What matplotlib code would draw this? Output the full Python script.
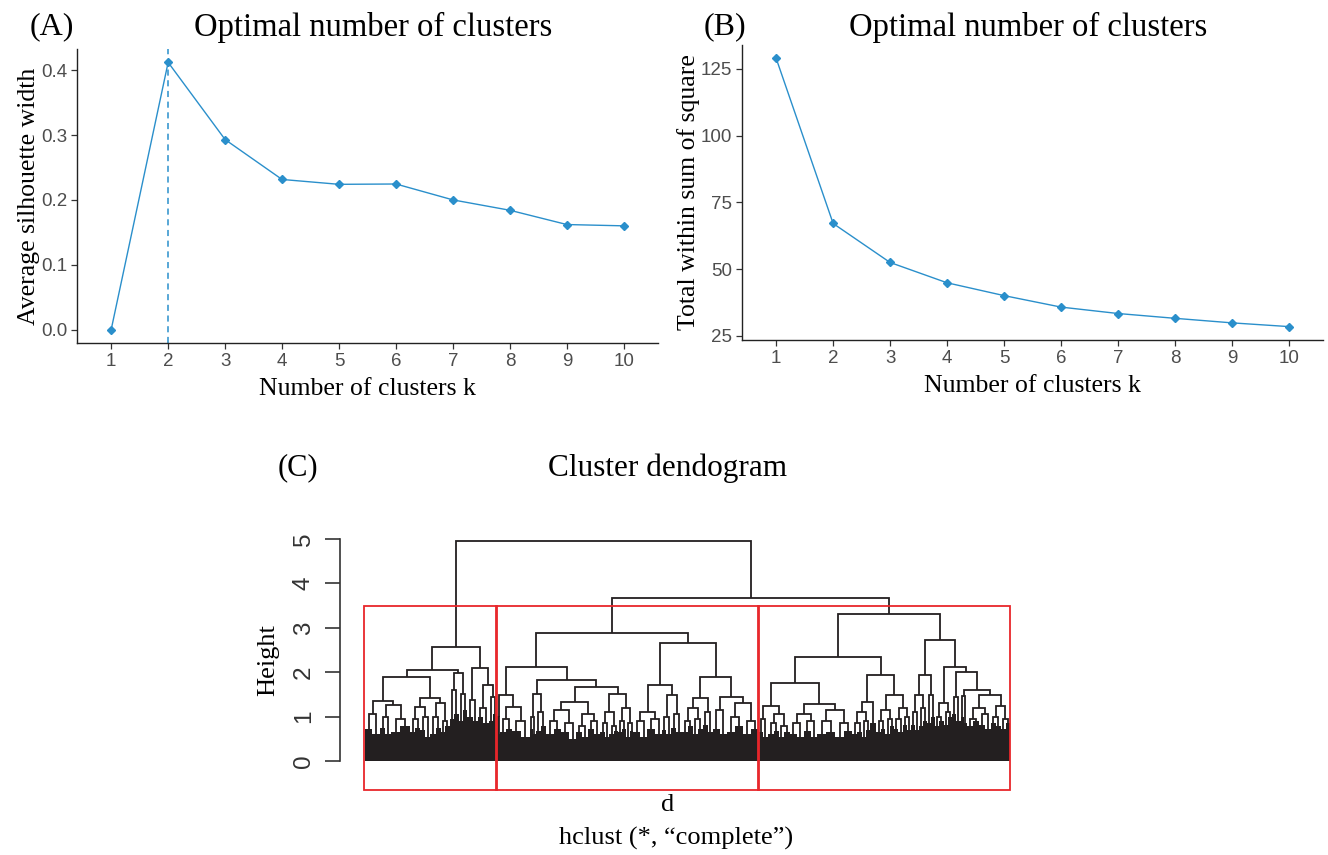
import matplotlib
matplotlib.use("Agg")
import matplotlib.pyplot as plt
from matplotlib.patches import Rectangle

# ---------------- data ----------------
k_values = [1, 2, 3, 4, 5, 6, 7, 8, 9, 10]
silhouette = [0.0, 0.412, 0.293, 0.2315, 0.224, 0.2245, 0.200, 0.184, 0.162, 0.160]
optimal_k = 2
wss = [128.9, 67.1, 52.5, 44.9, 40.1, 35.8, 33.4, 31.6, 29.9, 28.5]

# dendrogram: internal node = [height, left, right]; leaf bundle = (n_leaves, height)
cl1 = [2.57,
       [2.05,
        [1.9,
         [1.35, [1.05, (7, 0.72), (8, 0.6)],
                [1.26, [1.0, (5, 0.75), (6, 0.6)], [0.95, (9, 0.65), (10, 0.78)]]],
         [1.43, [1.22, [0.95, (5, 0.65), (5, 0.75)], [1.0, (5, 0.7), (5, 0.55)]],
                [1.3, [1.0, (5, 0.6), (5, 0.75)], [0.9, (4, 0.65), (5, 0.8)]]]],
        [1.98, [1.6, (4, 0.95), (5, 1.05)], [1.5, (4, 0.9), (4, 1.15)]]],
       [2.09,
        [1.37, (6, 1.0), (5, 0.9)],
        [1.71, [1.2, (5, 1.0), (6, 0.85)], [1.45, (4, 0.9), (4, 1.05)]]]]

cl2 = [2.89,
       [2.11,
        [1.49, [1.0, (2, 0.75), (1, 0.6)],
               [1.21, [0.95, (6, 0.65), (6, 0.72)], [0.9, (9, 0.68), (9, 0.55)]]],
        [1.82,
         [1.52, [1.0, (3, 0.72), (3, 0.6)], [1.1, (5, 0.68), (5, 0.78)]],
         [1.67,
          [1.34, [1.15, [0.9, (8, 0.6), (7, 0.72)], [0.85, (8, 0.65), (7, 0.5)]],
                 [1.05, [0.8, (6, 0.65), (6, 0.55)], [0.9, (6, 0.72), (6, 0.6)]]],
          [1.52, [1.1, [0.85, (5, 0.65), (4, 0.55)], [0.8, (5, 0.6), (4, 0.68)]],
                 [1.2, [0.9, (4, 0.65), (4, 0.72)], [0.85, (4, 0.55), (3, 0.68)]]]]]],
       [2.65,
        [1.71,
         [1.11, [0.9, (7, 0.65), (7, 0.55)], [0.95, (8, 0.72), (7, 0.6)]],
         [1.49, [1.0, (4, 0.7), (5, 0.6)], [1.05, (5, 0.75), (6, 0.65)]]],
        [1.9,
         [1.41, [1.2, [0.9, (5, 0.65), (5, 0.78)], [0.95, (5, 0.6), (5, 0.72)]],
                [1.1, (5, 0.82), (5, 0.65)]],
         [1.45, [1.15, (7, 0.72), (7, 0.6)],
                [1.3, [1.0, (8, 0.65), (8, 0.78)], [0.9, (8, 0.6), (8, 0.72)]]]]]]

cl3 = [3.31,
       [2.35,
        [1.75,
         [1.24, [0.95, (4, 0.65), (5, 0.55)],
                [1.05, [0.85, (6, 0.6), (5, 0.68)], [0.8, (5, 0.55), (6, 0.65)]]],
         [1.28, [1.05, [0.85, (7, 0.6), (7, 0.55)], [0.9, (7, 0.68), (6, 0.55)]],
                [1.15, [0.9, (9, 0.6), (9, 0.65)], [0.85, (9, 0.55), (8, 0.68)]]]],
        [1.94,
         [1.34, [1.1, [0.85, (5, 0.6), (5, 0.65)], [0.9, (4, 0.55), (4, 0.7)]], (6, 0.85)],
         [1.49, [1.15, [0.9, (5, 0.65), (4, 0.72)], [0.95, (5, 0.6), (4, 0.78)]],
                [1.2, [0.95, (4, 0.72), (5, 0.65)], [1.0, (4, 0.82), (4, 0.7)]]]]],
       [2.72,
        [1.94, [1.49, [1.1, (4, 0.82), (4, 0.7)], [1.2, (4, 0.78), (4, 0.9)]],
               [1.49, (4, 0.85), (4, 1.0)]],
        [2.12,
         [1.3, [1.0, (4, 0.78), (4, 0.9)], [1.1, (4, 0.82), (4, 1.0)]],
         [2.01,
          [1.45, (4, 1.05), (5, 0.9)],
          [1.61,
           [1.46, (3, 1.0), (3, 0.85)],
           [1.49, [1.2, [0.95, (6, 0.78), (6, 0.9)], [1.05, (6, 0.82), (6, 0.72)]],
                  [1.25, [1.0, (5, 0.85), (5, 0.78)], [0.95, (5, 0.72), (4, 0.85)]]]]]]]]

root_height = 4.95
upper_height = 3.68
dendro = [root_height, cl1, [upper_height, cl2, cl3]]
clusters = [cl1, cl2, cl3]

# ---------------- style ----------------
W, H = 1328, 855
SERIF = ["Liberation Serif", "DejaVu Serif"]
SANS = ["Liberation Sans", "DejaVu Sans"]
BLUE = "#2A8FCB"
TICKCOL = "#4D4D4D"

fig = plt.figure(figsize=(W / 100, H / 100), dpi=100)


def px_axes(l, t, r, b):
    return fig.add_axes([l / W, 1 - b / H, (r - l) / W, (b - t) / H])


def gg_panel(ax, y, ylabel, yticks, yticklabels):
    ax.plot(k_values, y, color=BLUE, lw=1.0, marker="D", ms=4.2, zorder=3)
    ax.set_xlim(0.4, 10.6)
    lo, hi = min(y), max(y)
    pad = 0.05 * (hi - lo)
    ax.set_ylim(lo - pad, hi + pad)
    ax.set_xticks(k_values)
    ax.set_xticklabels([str(k) for k in k_values], family=SANS, fontsize=13.5, color=TICKCOL)
    ax.set_yticks(yticks)
    ax.set_yticklabels(yticklabels, family=SANS, fontsize=13.5, color=TICKCOL)
    for s in ["top", "right"]:
        ax.spines[s].set_visible(False)
    for s in ["left", "bottom"]:
        ax.spines[s].set_color("#222222")
        ax.spines[s].set_linewidth(1.0)
    ax.tick_params(length=4, width=0.9, color="#333333", pad=3)
    ax.set_xlabel("Number of clusters k", family=SERIF, fontsize=18.5, labelpad=6)
    ax.set_ylabel(ylabel, family=SERIF, fontsize=18.5, labelpad=1)
    ax.set_facecolor("white")


# Panel A
axA = px_axes(77, 49, 658, 343)
gg_panel(axA, silhouette, "Average silhouette width",
         [0.0, 0.1, 0.2, 0.3, 0.4], ["0.0", "0.1", "0.2", "0.3", "0.4"])
axA.axvline(optimal_k, color=BLUE, lw=1.1, ls=(0, (4, 3)), zorder=2)
fig.text(52 / W, 1 - 27 / H, "(A)", family=SERIF, fontsize=23, ha="center", va="center")
fig.text(373 / W, 1 - 27 / H, "Optimal number of clusters", family=SERIF, fontsize=23.5,
         ha="center", va="center")

# Panel B
axB = px_axes(742, 45, 1323, 340)
gg_panel(axB, wss, "Total within sum of square",
         [25, 50, 75, 100, 125], ["25", "50", "75", "100", "125"])
fig.text(725 / W, 1 - 27 / H, "(B)", family=SERIF, fontsize=23, ha="center", va="center")
fig.text(1028 / W, 1 - 27 / H, "Optimal number of clusters", family=SERIF, fontsize=23.5,
         ha="center", va="center")

# Panel C: dendrogram
def count_leaves(node):
    if isinstance(node, tuple):
        return node[0]
    return count_leaves(node[1]) + count_leaves(node[2])


N = count_leaves(dendro)
axC = px_axes(340, 530, 1035, 790)
LINE = "#231F20"


def draw(node, start):
    if isinstance(node, tuple):
        n, h = node
        axC.bar(start + (n + 1) / 2, h, width=n, bottom=0, color=LINE, linewidth=0)
        return start + (n + 1) / 2, h, start + n
    h, a, b = node
    xa, ha, s1 = draw(a, start)
    xb, hb, s2 = draw(b, s1)
    axC.plot([xa, xa, xb, xb], [ha, h, h, hb], color=LINE, lw=1.3,
             solid_joinstyle="miter", solid_capstyle="butt")
    return (xa + xb) / 2, h, s2


draw(dendro, 0)
pad = 0.04 * (N - 1)
axC.set_xlim(1 - pad, N + pad)
axC.set_ylim(-0.65, 5.2)

box_top = (upper_height + cl3[0]) / 2
cum = 0
for cl in clusters:
    n = count_leaves(cl)
    axC.add_patch(Rectangle((cum + 0.66 - 1, -0.65), n - 0.33 + 1, box_top + 0.65,
                            fill=False, edgecolor="#E8262B", lw=1.3, clip_on=False, zorder=5))
    cum += n

for s in ["top", "right", "bottom"]:
    axC.spines[s].set_visible(False)
axC.spines["left"].set_bounds(0, 5)
axC.spines["left"].set_linewidth(1.2)
axC.spines["left"].set_color("#333333")
axC.set_xticks([])
axC.set_yticks([0, 1, 2, 3, 4, 5])
axC.set_yticklabels(["0", "1", "2", "3", "4", "5"], family=SANS, fontsize=17.5,
                    rotation=90, va="center", color="#333333")
axC.tick_params(axis="y", length=11, width=1.2, color="#333333", pad=7)
axC.set_ylabel("Height", family=SERIF, fontsize=19, labelpad=10)
axC.patch.set_visible(False)

fig.text(668 / W, 1 - 805 / H, "d", family=SERIF, fontsize=19, ha="center", va="center")
fig.text(676 / W, 1 - 838 / H, "hclust (*, \u201ccomplete\u201d)", family=SERIF, fontsize=19,
         ha="center", va="center")
fig.text(298 / W, 1 - 468 / H, "(C)", family=SERIF, fontsize=22, ha="center", va="center")
fig.text(668 / W, 1 - 468 / H, "Cluster dendogram", family=SERIF, fontsize=22.5,
         ha="center", va="center")

fig.savefig("out.png", dpi=100, facecolor="white")
